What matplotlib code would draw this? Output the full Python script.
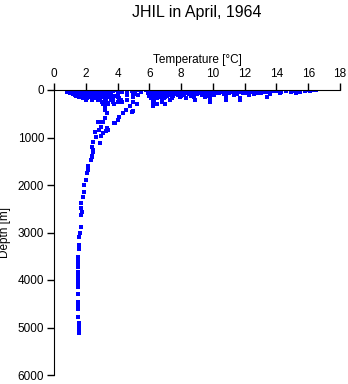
import matplotlib.pyplot as plt

plt.rcParams['font.family'] = ['Liberation Sans', 'DejaVu Sans']

# surface layer, temperatures read per depth level
surf_depths = [0, 10, 20, 30, 40, 50, 60, 70, 80, 100, 125, 150, 175, 200, 250, 300, 340]
surf_temps = [
    [1.0, 1.3, 1.6, 1.9, 2.1, 2.4, 2.7, 3.0, 3.3, 3.8, 4.2, 5.2, 5.8, 6.2, 6.6, 7.0, 7.4, 7.7, 8.0, 8.3,
     8.6, 8.9, 9.2, 9.5, 9.8, 10.1, 10.4, 10.8, 11.2, 12.2, 12.6, 13.0, 13.5, 14.1, 15.4, 15.9, 16.3, 16.5],
    [1.2, 1.5, 1.8, 2.2, 2.5, 2.8, 3.1, 3.5, 4.1, 6.1, 6.5, 6.8, 7.2, 7.6, 8.1, 8.4, 8.7, 9.0, 9.4, 9.7,
     10.0, 10.3, 10.7, 11.1, 12.0, 12.5, 13.1, 13.7, 16.0, 16.4],
    [1.1, 1.4, 1.7, 2.0, 2.3, 2.6, 2.9, 3.2, 4.0, 4.9, 6.0, 6.4, 6.9, 7.3, 7.6, 7.9, 8.2, 8.5, 8.8, 9.1,
     9.4, 9.7, 10.0, 10.3, 10.6, 11.0, 11.5, 12.4, 12.9, 13.3, 13.8, 14.6, 15.8, 16.1],
    [0.9, 1.3, 1.6, 1.9, 2.2, 2.5, 2.8, 3.0, 3.7, 6.2, 6.6, 7.0, 7.4, 7.8, 8.0, 8.3, 8.6, 9.0, 9.3, 9.6,
     9.9, 10.2, 10.5, 10.9, 11.3, 12.2, 12.8, 14.0, 15.0],
    [0.8, 1.2, 1.5, 1.8, 2.2, 2.5, 2.8, 3.4, 4.3, 5.5, 6.3, 6.7, 7.1, 7.5, 7.8, 8.1, 8.4, 8.7, 9.0, 9.3,
     9.6, 9.9, 10.2, 10.5, 10.9, 11.6, 12.0, 12.7, 13.4, 14.3, 14.9, 15.5],
    [1.1, 1.4, 1.8, 2.1, 2.4, 2.7, 3.0, 3.3, 4.6, 6.1, 6.5, 6.9, 7.3, 7.7, 8.2, 8.6, 8.9, 9.2, 9.5, 9.8,
     10.1, 10.6, 11.1, 11.8, 12.4, 13.2],
    [1.0, 1.3, 1.6, 2.0, 2.3, 2.7, 3.1, 3.6, 4.6, 5.9, 6.2, 6.6, 7.0, 7.4, 7.7, 8.0, 8.4, 8.8, 9.2, 9.6,
     10.0, 10.4, 11.0, 12.1, 13.0, 14.2, 15.2],
    [1.2, 1.6, 1.9, 2.2, 2.5, 2.9, 3.2, 3.5, 5.0, 6.3, 6.7, 7.1, 7.5, 7.9, 8.3, 8.7, 9.1, 9.5, 10.2, 10.9,
     11.9, 12.8],
    [1.2, 1.5, 1.9, 2.2, 2.6, 3.0, 3.3, 4.0, 5.1, 6.0, 6.4, 6.8, 7.2, 7.6, 8.0, 8.5, 9.0, 9.4, 9.9, 10.7,
     11.5, 12.6, 13.6],
    [1.3, 1.7, 2.0, 2.4, 2.8, 3.2, 3.6, 4.6, 5.3, 6.1, 6.5, 6.9, 7.3, 7.8, 8.2, 8.7, 9.3, 10.1, 11.3, 12.3],
    [1.4, 1.8, 2.2, 2.5, 2.9, 3.3, 3.8, 6.0, 6.3, 6.7, 7.1, 7.5, 8.0, 8.6, 9.6, 10.8],
    [1.6, 1.9, 2.3, 2.7, 3.1, 3.5, 4.0, 5.0, 6.2, 6.6, 7.0, 7.4, 7.9, 8.8, 9.5, 13.4],
    [1.8, 2.1, 2.5, 2.9, 3.3, 3.7, 4.1, 6.1, 6.5, 6.9, 7.4, 8.3, 9.8, 11.7],
    [2.0, 2.4, 2.8, 3.2, 3.6, 4.2, 4.6, 6.3, 6.8, 7.3, 8.9, 10.8, 11.7],
    [3.0, 3.3, 3.7, 4.0, 4.3, 5.0, 6.2, 6.8, 9.8],
    [3.1, 3.4, 3.8, 5.2, 6.5, 7.0],
    [3.2, 4.8, 6.2],
]

# deeper profile, main branch
deep_temp = [3.31, 3.21, 3.31, 3.21, 3.10, 2.74, 2.93, 2.83, 2.58, 2.64, 2.96, 2.47, 2.89, 2.37,
             2.47, 2.37, 2.31, 2.43, 2.37, 2.16, 2.15, 2.05, 2.01, 1.89, 1.89, 1.85, 1.72, 1.72,
             1.78, 1.68, 1.68, 1.64, 1.60, 1.57, 1.55, 1.53, 1.53, 1.53, 1.53, 1.53, 1.49, 1.49,
             1.53, 1.53, 1.53, 1.53, 1.53, 1.53, 1.53, 1.59, 1.59, 1.59, 1.59]
deep_depth = [281, 421, 491, 596, 667, 667, 772, 842, 877, 982, 960, 1088, 1109, 1193,
              1263, 1403, 1474, 1298, 1390, 1600, 1680, 1754, 1895, 2000, 2140, 2260, 2386, 2491,
              2575, 2632, 2877, 3018, 3088, 3263, 3340, 3509, 3580, 3650, 3733, 3825, 3916, 3986,
              4070, 4140, 4295, 4456, 4526, 4618, 4772, 4912, 4982, 5053, 5123]

# warmer branch
branch_temp = [4.99, 4.53, 4.88, 4.36, 4.11, 4.05, 3.84, 3.77, 3.42, 3.31, 3.28, 3.10, 2.85]
branch_depth = [442, 421, 456, 491, 575, 631, 702, 702, 842, 807, 870, 912, 680]

temps = []
depths = []
for d, ts in zip(surf_depths, surf_temps):
    for t in ts:
        temps.append(t)
        depths.append(d)
temps += deep_temp + branch_temp
depths += deep_depth + branch_depth

fig = plt.figure(figsize=(3.48, 3.84), dpi=100)
ax = fig.add_axes([54/348, 9/384, 286/348, 285/384])
ax.plot(temps, depths, 's', color='#0000ff', markersize=2.4, markeredgewidth=0)

ax.set_xlim(0, 18)
ax.set_ylim(6000, 0)
ax.set_xticks(range(0, 19, 2))
ax.set_yticks(range(0, 6001, 1000))
ax.xaxis.set_ticks_position('top')
ax.xaxis.set_label_position('top')
ax.spines['right'].set_visible(False)
ax.spines['bottom'].set_visible(False)
ax.tick_params(labelsize=8.5, length=5, width=1, pad=2)
ax.set_xlabel('Temperature [\u00b0C]', fontsize=8.5, labelpad=4)
ax.set_ylabel('Depth [m]', fontsize=8.5, labelpad=5)
fig.text(197/348, 1 - 13/384, 'JHIL in April, 1964', ha='center', va='center', fontsize=11.5)

plt.savefig('out.png', dpi=100)
